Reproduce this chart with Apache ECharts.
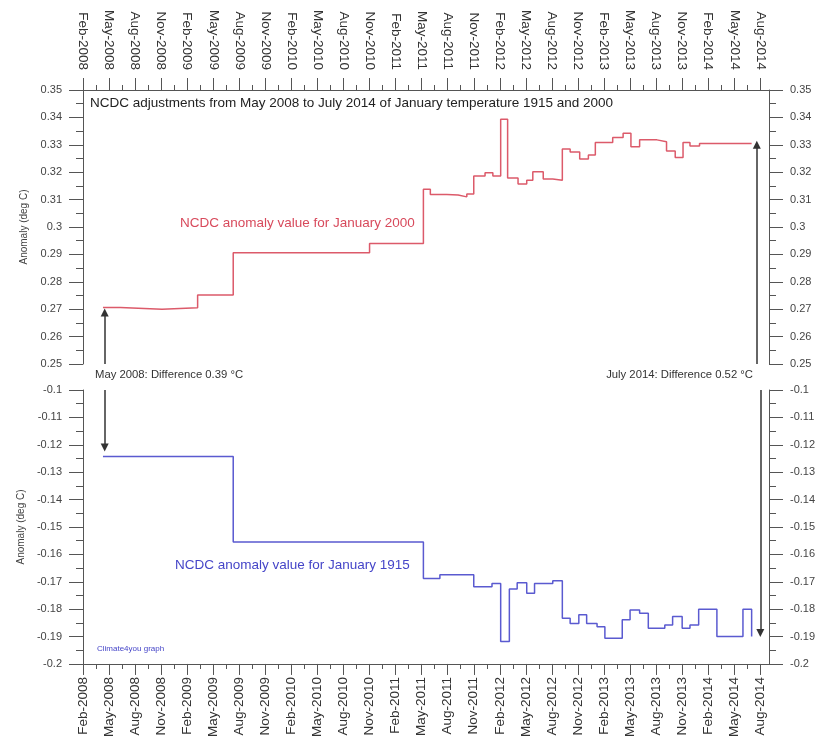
<!DOCTYPE html>
<html><head><meta charset="utf-8">
<script src="https://cdn.jsdelivr.net/npm/echarts@6/dist/echarts.min.js"></script>
<style>html,body{margin:0;padding:0;background:#fff}#c{width:820px;height:740px}</style>
</head><body><div id="c"></div>
<script>
// x positions are months since Feb-2008 (0 = Feb-2008, 3 = May-2008, ... 78 = Aug-2014)
const tickMonths = [0,3,6,9,12,15,18,21,24,27,30,33,36,39,42,45,48,51,54,57,60,63,66,69,72,75,78];
const tickLabels = ['Feb-2008','May-2008','Aug-2008','Nov-2008','Feb-2009','May-2009','Aug-2009','Nov-2009',
  'Feb-2010','May-2010','Aug-2010','Nov-2010','Feb-2011','May-2011','Aug-2011','Nov-2011',
  'Feb-2012','May-2012','Aug-2012','Nov-2012','Feb-2013','May-2013','Aug-2013','Nov-2013',
  'Feb-2014','May-2014','Aug-2014'];

// NCDC anomaly value for January 2000 (deg C), stepwise
const jan2000Months = [2.3,4.3,9.1,13.2,17.3,33.0,39.2,40.0,41.9,43.2,44.2,45.0,46.3,47.2,48.1,48.9,50.1,51.1,51.8,53.0,
  54.1,55.2,56.1,57.2,58.2,59.0,61.0,62.2,63.1,64.1,66.1,67.2,68.2,69.1,69.9,71.0,77.0];
const jan2000Values = [0.2706,0.2700,0.2705,0.2752,0.2906,0.2940,0.3138,0.3119,0.3117,0.3110,0.3120,0.3186,0.3198,0.3186,0.3393,
  0.3179,0.3157,0.3171,0.3202,0.3175,0.3171,0.3285,0.3274,0.3248,0.3263,0.3308,0.3327,0.3342,0.3293,0.3318,
  0.3311,0.3277,0.3254,0.3308,0.3296,0.3305,0.3305];

// NCDC anomaly value for January 1915 (deg C), stepwise
const jan1915Months = [2.3,17.3,39.2,41.1,45.0,47.1,48.1,49.1,50.0,51.1,52.0,54.1,55.2,56.1,57.1,58.0,59.2,60.1,62.1,63.0,
  64.1,65.1,67.0,67.9,69.0,69.9,70.9,73.0,76.0,77.0];
const jan1915Values = [-0.1243,-0.1555,-0.1688,-0.1674,-0.1718,-0.1706,-0.1918,-0.1726,-0.1704,-0.1742,-0.1706,-0.1696,
  -0.1833,-0.1852,-0.1820,-0.1852,-0.1864,-0.1906,-0.1839,-0.1803,-0.1815,-0.1870,-0.1858,-0.1827,-0.1870,-0.1858,
  -0.1800,-0.1900,-0.1800,-0.1900];

const minorMonths = tickMonths.slice(0, -1).map(m => m + 1.5);
const FONT = "'Liberation Sans', Arial, sans-serif";
const AX = '#555';
const TXT = '#333';

const G_LEFT = 83, G_RIGHT = 51;
const grids = [
  {left: G_LEFT, right: G_RIGHT, top: 90, height: 274},
  {left: G_LEFT, right: G_RIGHT, top: 390, height: 274},
  {left: G_LEFT, right: G_RIGHT, top: 90, height: 274},
  {left: G_LEFT, right: G_RIGHT, top: 390, height: 274}
];

function labelFor(v) {
  const i = tickMonths.indexOf(Math.round(v));
  return i >= 0 ? tickLabels[i] : '';
}
function yFmt(v) { return String(+v.toFixed(3)); }

function majorX(gi, pos, tickLen, margin) {
  return {
    type: 'value', gridIndex: gi, position: pos, min: 0, max: 79,
    axisLine: {show: true, onZero: false, lineStyle: {color: AX, width: 1}},
    axisTick: {show: true, customValues: tickMonths, length: tickLen, lineStyle: {color: AX}},
    axisLabel: {show: true, customValues: tickMonths, rotate: 90, formatter: labelFor,
      fontSize: 13.5, fontFamily: FONT, color: TXT, margin: margin},
    splitLine: {show: false}
  };
}
function minorX(gi, pos, tickLen) {
  return {
    type: 'value', gridIndex: gi, position: pos, min: 0, max: 79,
    axisLine: {show: false, onZero: false},
    axisTick: {show: true, customValues: minorMonths, length: tickLen, lineStyle: {color: AX}},
    axisLabel: {show: false}, splitLine: {show: false}
  };
}
function yAx(gi, pos, min, max, name) {
  const o = {
    type: 'value', gridIndex: gi, position: pos, min: min, max: max, interval: 0.01,
    axisLine: {show: true, onZero: false, lineStyle: {color: AX, width: 1}},
    axisTick: {show: true, length: 14, lineStyle: {color: AX}},
    minorTick: {show: true, splitNumber: 2, length: 7, lineStyle: {color: AX}},
    axisLabel: {formatter: yFmt, fontSize: 11, fontFamily: FONT, color: '#444', margin: 21},
    splitLine: {show: false}, minorSplitLine: {show: false}
  };
  if (name) {
    o.name = name; o.nameLocation = 'middle'; o.nameRotate = 90; o.nameGap = 50;
    o.nameTextStyle = {fontSize: 10, fontFamily: FONT, color: '#444'};
  }
  return o;
}

const arrowLine = {color: '#333', width: 1.5, type: 'solid'};

const option = {
  animation: false,
  backgroundColor: '#fff',
  grid: grids,
  xAxis: [majorX(0, 'top', 12, 20), majorX(1, 'bottom', 11, 13), minorX(2, 'top', 5), minorX(3, 'bottom', 5)],
  yAxis: [
    yAx(0, 'left', 0.25, 0.35, 'Anomaly (deg C)'), yAx(0, 'right', 0.25, 0.35),
    yAx(1, 'left', -0.2, -0.1, 'Anomaly (deg C)'), yAx(1, 'right', -0.2, -0.1),
    {type: 'value', gridIndex: 2, show: false, min: 0, max: 1, axisLine: {onZero: false}},
    {type: 'value', gridIndex: 3, show: false, min: 0, max: 1, axisLine: {onZero: false}}
  ],
  series: [
    {
      name: 'January 2000', type: 'line', step: 'end', xAxisIndex: 0, yAxisIndex: 0,
      symbol: 'none', clip: false,
      lineStyle: {color: '#dc5a6a', width: 1.5},
      data: jan2000Months.map((m, i) => [m, jan2000Values[i]]),
      markLine: {
        silent: true, symbol: ['none', 'triangle'], symbolSize: 8,
        label: {show: false}, lineStyle: arrowLine, emphasis: {disabled: true},
        data: [
          [{coord: [2.5, 0.25]}, {coord: [2.5, 0.2688]}],
          [{coord: [77.6, 0.25]}, {coord: [77.6, 0.3300]}]
        ]
      }
    },
    {
      name: 'January 1915', type: 'line', step: 'end', xAxisIndex: 1, yAxisIndex: 2,
      symbol: 'none', clip: false,
      lineStyle: {color: '#5a5ad0', width: 1.5},
      data: jan1915Months.map((m, i) => [m, jan1915Values[i]]),
      markLine: {
        silent: true, symbol: ['none', 'triangle'], symbolSize: 8,
        label: {show: false}, lineStyle: arrowLine, emphasis: {disabled: true},
        data: [
          [{coord: [2.5, -0.1]}, {coord: [2.5, -0.1210]}],
          [{coord: [78.0, -0.1]}, {coord: [78.0, -0.1887]}]
        ]
      }
    }
  ],
  graphic: [
    {type: 'text', x: 90, y: 103, silent: true, style: {text: 'NCDC adjustments from May 2008 to July 2014 of January temperature 1915 and 2000',
      fontSize: 13.5, fontFamily: FONT, fill: '#222', verticalAlign: 'middle'}},
    {type: 'text', x: 180, y: 223, silent: true, style: {text: 'NCDC anomaly value for January 2000',
      fontSize: 13.5, fontFamily: FONT, fill: '#d84a5c', verticalAlign: 'middle'}},
    {type: 'text', x: 175, y: 565, silent: true, style: {text: 'NCDC anomaly value for January 1915',
      fontSize: 13.5, fontFamily: FONT, fill: '#4545c8', verticalAlign: 'middle'}},
    {type: 'text', x: 95, y: 375, silent: true, style: {text: 'May 2008: Difference 0.39 °C',
      fontSize: 11.3, fontFamily: FONT, fill: '#333', verticalAlign: 'middle'}},
    {type: 'text', x: 753, y: 375, silent: true, style: {text: 'July 2014: Difference 0.52 °C',
      fontSize: 11.3, fontFamily: FONT, fill: '#333', verticalAlign: 'middle', align: 'right'}},
    {type: 'text', x: 97, y: 649, silent: true, style: {text: 'Climate4you graph',
      fontSize: 8, fontFamily: FONT, fill: '#4545c8', verticalAlign: 'middle'}}
  ]
};

const chart = echarts.init(document.getElementById('c'), null, {renderer: 'canvas'});
chart.setOption(option);
</script>
</body></html>
